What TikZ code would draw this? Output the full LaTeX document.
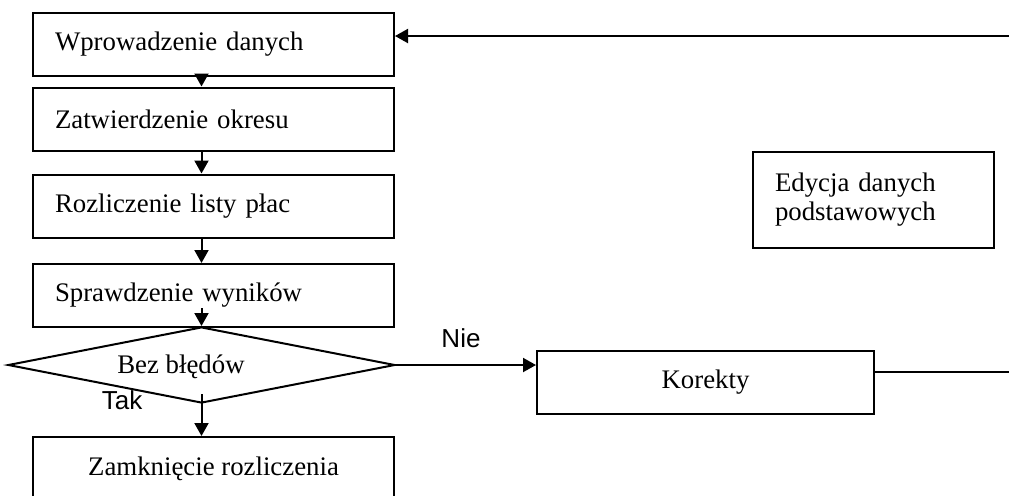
\documentclass[tikz,border=0pt]{standalone}
\usepackage{fontspec}
\setmainfont{Liberation Serif}
\newfontfamily\labelfont{Liberation Sans}
\usepackage{tikz}
\usetikzlibrary{positioning}
\usetikzlibrary{shapes.geometric,arrows.meta}

\tikzset{
  stepbox/.style={draw, rectangle, line width=1pt, minimum width=180.5pt,
    minimum height=31.5pt, inner xsep=11pt, inner ysep=0pt},
  leftbox/.style={stepbox, text width=158.5pt, align=left},
  decision/.style={draw, diamond, line width=1pt, minimum width=193.5pt,
    minimum height=38pt, inner sep=0pt},
  arr/.style={-{Triangle[length=6.5pt,width=7pt]}, line width=1pt},
  line/.style={line width=1pt},
  answer/.style={font=\labelfont\fontsize{13}{15}\selectfont, inner sep=0pt}
}

\begin{document}
\begin{tikzpicture}[x=0.5pt,y=-0.5pt,font=\fontsize{13.4}{14.5}\selectfont]
  \clip (0,0) rectangle (1009,495);
  \node(input) [leftbox] at (213.5,44.5) {Wprowadzenie danych};
  \node(approve) [leftbox] at (213.5,119) {Zatwierdzenie okresu};
  \node(payroll) [leftbox] at (213.5,206) {Rozliczenie listy płac};
  \node(check) [leftbox] at (213.5,295.5) {Sprawdzenie wyników};
  \node(dec) [decision] at (201.5,365) {};
  \node(declabel) [inner sep=0pt] at (181,367) {Bez błędów};
  \node(close) [stepbox] at (213.5,468.5) {Zamknięcie rozliczenia};
  \node(fix) [stepbox, minimum width=168.5pt] at (705.5,382.5) {Korekty};
  \node(edit) [stepbox, minimum width=120.5pt, minimum height=48pt,
    text width=98.5pt, align=left] at (873.5,200) {Edycja danych\\podstawowych};
  \node(yes) [answer] at (122,400) {Tak};
  \node(no) [answer] at (461,338) {Nie};
  \coordinate(backin) at (1009,36);
  \coordinate(backout) at (1009,372);
  % main flow
  \draw[arr] (input.south -| dec.north) -- (approve.north -| dec.north);
  \draw[arr] (approve.south -| dec.north) -- (payroll.north -| dec.north);
  \draw[arr] (payroll.south -| dec.north) -- (check.north -| dec.north);
  \draw[arr] ([yshift=10pt]check.south -| dec.north) -- (dec.north);
  \draw[arr] ([yshift=5pt]dec.south) -- (close.north -| dec.south);
  % corrections loop
  \draw[arr] (dec.east) -- (dec.east -| fix.west);
  \draw[line] (fix.east |- backout) -- (backout);
  \draw[arr] (backin) -- (backin -| input.east);
\end{tikzpicture}
\end{document}
